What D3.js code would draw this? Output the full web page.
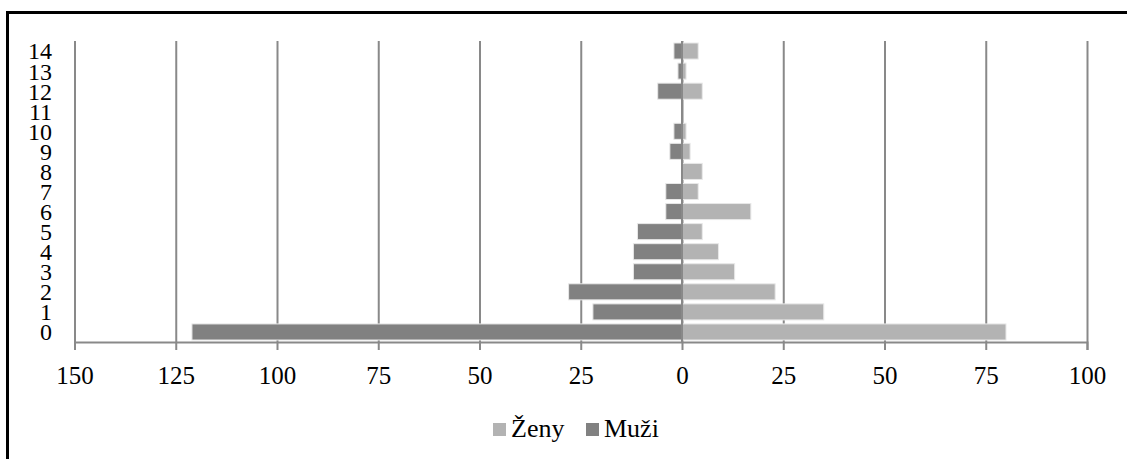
<!DOCTYPE html>
<html>
<head>
<meta charset="utf-8">
<script src="https://cdn.jsdelivr.net/npm/d3@7/dist/d3.min.js"></script>
</head>
<body style="margin:0">
<div id="chart"></div>
<script>
// Age categories (bottom to top)
const categories = ['0', '1', '2', '3', '4', '5', '6', '7', '8', '9', '10', '11', '12', '13', '14']
const zeny = [80, 35, 23, 13, 9, 5, 17, 4, 5, 2, 1, 0, 5, 1, 4]
const muzi = [121, 22, 28, 12, 12, 11, 4, 4, 0, 3, 2, 0, 6, 1, 2]
const xTicks = [-150, -125, -100, -75, -50, -25, 0, 25, 50, 75, 100]
const seriesNames = ['Ženy', 'Muži']
const seriesColors = ['#b3b3b3', '#818181']

const serif = '"Liberation Serif"'
const gridColor = '#898989'
const width = 1127
const height = 459
const margin = { top: 41, left: 74.5 }
const innerWidth = 1087 - margin.left
const innerHeight = 342 - margin.top

const svg = d3.select('#chart')
  .append('svg')
  .attr('width', width)
  .attr('height', height)
  .style('display', 'block')

// Outer frame (runs off the right and bottom edges)
svg.append('rect')
  .attr('x', 7.5)
  .attr('y', 12.5)
  .attr('width', width + 20)
  .attr('height', height + 20)
  .attr('fill', 'none')
  .attr('stroke', '#000')
  .attr('stroke-width', 3)

const g = svg.append('g')
  .attr('transform', `translate(${margin.left}, ${margin.top})`)

const xScale = d3.scaleLinear().domain([-150, 100]).range([0, innerWidth])
const yScale = d3.scaleBand()
  .domain(categories.slice().reverse())
  .range([0, innerHeight])
  .paddingInner(0.2)
  .paddingOuter(0.1)

// Vertical gridlines
const grid = g.append('g')
  .attr('transform', `translate(0, ${innerHeight})`)
  .call(d3.axisBottom(xScale).tickValues(xTicks).tickSize(-innerHeight).tickFormat(''))
grid.select('.domain').remove()
grid.selectAll('line').attr('stroke', gridColor).attr('stroke-width', 2)

// Bars
const barGroups = [
  { name: seriesNames[0], values: zeny, color: seriesColors[0], sign: 1 },
  { name: seriesNames[1], values: muzi, color: seriesColors[1], sign: -1 }
]

barGroups.forEach(s => {
  g.append('g')
    .selectAll('rect')
    .data(categories.map((c, i) => ({ cat: c, v: s.values[i] * s.sign })))
    .join('rect')
    .filter(d => d.v !== 0)
    .attr('x', d => xScale(Math.min(0, d.v)))
    .attr('y', d => yScale(d.cat))
    .attr('width', d => Math.abs(xScale(d.v) - xScale(0)))
    .attr('height', yScale.bandwidth())
    .attr('fill', s.color)
    .attr('stroke', '#e8e8e8')
    .attr('stroke-width', 1)
})

// Category axis at zero
g.append('line')
  .attr('x1', xScale(0))
  .attr('x2', xScale(0))
  .attr('y1', 0)
  .attr('y2', innerHeight)
  .attr('stroke', gridColor)
  .attr('stroke-width', 2)

// Bottom value axis
const xAxis = g.append('g')
  .attr('transform', `translate(0, ${innerHeight})`)
  .call(d3.axisBottom(xScale).tickValues(xTicks).tickSize(8).tickPadding(16).tickFormat(d => Math.abs(d)))
xAxis.attr('font-family', null).attr('font-size', null)
xAxis.selectAll('path, line').attr('stroke', gridColor).attr('stroke-width', 2)
xAxis.selectAll('text')
  .style('font-family', serif)
  .style('font-size', '25px')
  .attr('fill', '#000')

// Category labels on the left
g.append('g')
  .selectAll('text')
  .data(categories)
  .join('text')
  .attr('x', 52 - margin.left)
  .attr('y', d => yScale(d) + yScale.bandwidth() / 2)
  .attr('dy', '0.35em')
  .attr('text-anchor', 'end')
  .style('font-family', serif)
  .style('font-size', '24px')
  .text(d => d)

// Legend
const legend = svg.append('g').attr('transform', 'translate(493, 423)')
const legendX = [0, 93]
barGroups.forEach((s, i) => {
  legend.append('rect')
    .attr('x', legendX[i])
    .attr('y', 0)
    .attr('width', 13)
    .attr('height', 13)
    .attr('fill', s.color)
  legend.append('text')
    .attr('x', legendX[i] + 18)
    .attr('y', 14)
    .style('font-family', serif)
    .style('font-size', '26px')
    .text(s.name)
})
</script>
</body>
</html>
